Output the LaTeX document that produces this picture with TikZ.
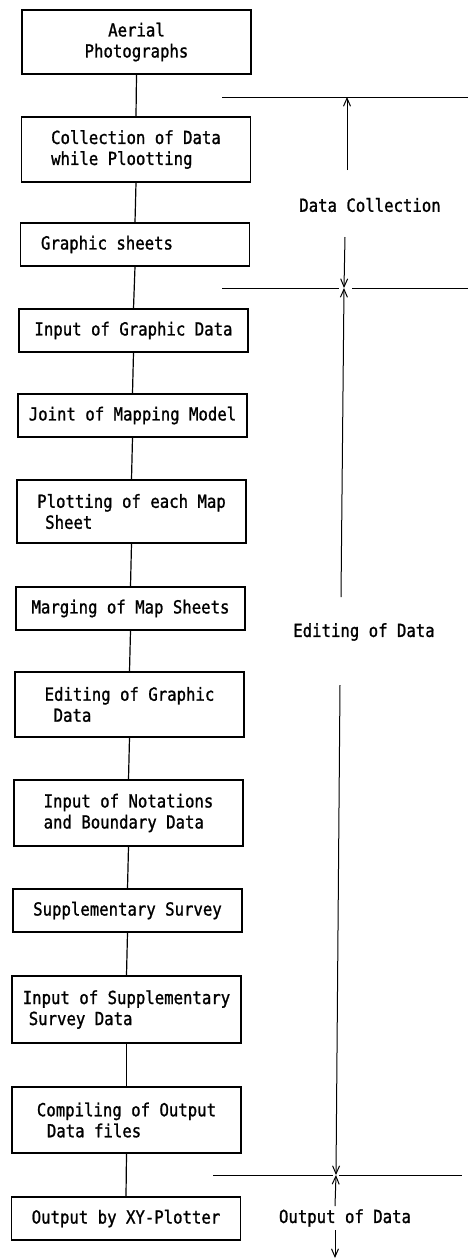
\documentclass[tikz,border=0pt]{standalone}
\usepackage{fontspec}
\newfontfamily\flowfont[FakeStretch=0.87,FakeBold=1.2]{DejaVu Sans Mono}
\usetikzlibrary{arrows.meta}
\begin{document}
\begin{tikzpicture}[x=1pt,y=-1pt,line width=1.2pt,
  every node/.style={font=\flowfont\fontsize{18}{21}\selectfont},
  box/.style={draw,minimum width=229pt,align=left,inner sep=0pt},
  span/.style={line width=1pt,-{Straight Barb[length=8pt,width=7pt]}},
  rule/.style={line width=0.9pt}]
	\useasboundingbox (0,0) rectangle (468,1259);

	% flow of work
	\node[box,align=center,minimum height=64pt] (aerial) at (136.5,42) {Aerial\\Photographs};
	\node[box,minimum height=65pt] (collect) at (136,149.5) {Collection of Data\hspace{16pt}\\while Plootting};
	\node[box,minimum height=43pt] (sheets) at (135,244.5) {Graphic sheets\hspace{56pt}};
	\node[box,minimum height=43pt] (inputgr) at (133.5,330.5) {Input of Graphic Data};
	\node[box,minimum height=43pt] (joint) at (132.5,415.5) {Joint of Mapping Model};
	\node[box,minimum height=63pt] (plot) at (131.5,511.5) {Plotting of each Map\\\hspace{8pt}Sheet};
	\node[box,minimum height=43pt] (merge) at (130.5,608.5) {Marging of Map Sheets};
	\node[box,minimum height=65pt] (edit) at (129.5,704.5) {Editing of Graphic\hspace{12pt}\\\hspace{9pt}Data};
	\node[box,minimum height=66pt] (notat) at (128.5,813) {Input of Notations\hspace{12pt}\\and Boundary Data};
	\node[box,minimum height=43pt] (supp) at (127.5,910.5) {Supplementary Survey};
	\node[box,minimum height=67pt] (inputsupp) at (126.5,1009.5) {Input of Supplementary\\\hspace{6pt}Survey Data};
	\node[box,minimum height=66pt] (compile) at (126.5,1120) {Compiling of Output\hspace{8pt}\\\hspace{10pt}Data files};
	\node[box,minimum height=43pt] (output) at (126,1218.5) {Output by XY-Plotter};

	\draw (aerial.south) -- (collect.north);
	\draw (collect.south) -- (sheets.north);
	\draw (sheets.south) -- (inputgr.north);
	\draw (inputgr.south) -- (joint.north);
	\draw (joint.south) -- (plot.north);
	\draw (plot.south) -- (merge.north);
	\draw (merge.south) -- (edit.north);
	\draw (edit.south) -- (notat.north);
	\draw (notat.south) -- (supp.north);
	\draw (supp.south) -- (inputsupp.north);
	\draw (inputsupp.south) -- (compile.north);
	\draw (compile.south) -- (output.north);

	% stages
	\node (dc) at (370,205) {Data Collection};
	\node (ed) at (364,632) {Editing of Data};
	\node (od) at (345,1218) {Output of Data};

	\draw[rule] (222,97) -- (468,97);
	\draw[rule] (222,288) -- (339,288);
	\draw[rule] (352,288) -- (468,288);
	\draw[rule] (213,1175) -- (333,1175);
	\draw[rule] (339,1175) -- (462,1175);

	\coordinate (dcup) at (347,170);
	\coordinate (dctop) at (347,97);
	\coordinate (dcdown) at (345,237);
	\coordinate (dcbot) at (344,288);
	\coordinate (edup) at (341,597);
	\coordinate (edtop) at (344,288);
	\coordinate (eddown) at (340,685);
	\coordinate (edbot) at (336,1175);
	\coordinate (odup) at (335,1206);
	\coordinate (odtop) at (336,1175);
	\coordinate (oddown) at (335,1230);
	\coordinate (odbot) at (335,1258);

	\draw[span] (dcup) -- (dctop);
	\draw[span] (dcdown) -- (dcbot);
	\draw[span] (edup) -- (edtop);
	\draw[span] (eddown) -- (edbot);
	\draw[span] (odup) -- (odtop);
	\draw[span] (oddown) -- (odbot);
\end{tikzpicture}
\end{document}
